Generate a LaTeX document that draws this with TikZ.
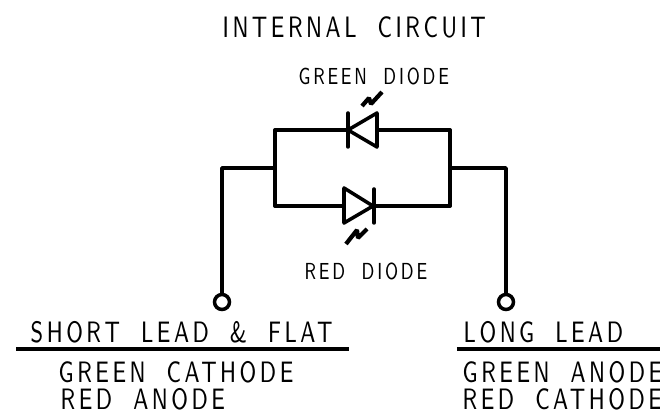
\documentclass[tikz,border=0pt]{standalone}
\usepackage{fontspec}
\newfontfamily\cadfont[LetterSpace=12,FakeStretch=0.72,WordSpace=1.9]{Latin Modern Sans}
\tikzstyle{wire}=[line width=1pt, line cap=round, line join=round]
\tikzstyle{rule}=[line width=1pt]
\tikzstyle{glow}=[line width=1.2pt, line join=bevel]
\tikzstyle{terminal}=[draw, circle, line width=1pt, minimum size=0.15cm, inner sep=0]
\tikzstyle{big label}=[anchor=west, inner sep=0, font=\cadfont\fontsize{8.4}{9}\selectfont]
\tikzstyle{small label}=[anchor=west, inner sep=0, font=\cadfont\fontsize{6.6}{7}\selectfont]

\begin{document}
\begin{tikzpicture}
      \useasboundingbox (0, 0) rectangle (6.6, 4.1);

      \node[big label] (title) at (2.22, 3.83) {INTERNAL CIRCUIT};
      \node[small label] (green_name) at (2.98, 3.34) {GREEN DIODE};
      \node[small label] (red_name) at (3.04, 1.39) {RED DIODE};

      \coordinate (bus_left_top) at (2.75, 2.80);
      \coordinate (bus_left_mid) at (2.75, 2.42);
      \coordinate (bus_left_bot) at (2.75, 2.04);
      \coordinate (bus_right_top) at (4.50, 2.80);
      \coordinate (bus_right_mid) at (4.50, 2.42);
      \coordinate (bus_right_bot) at (4.50, 2.04);
      \coordinate (corner_left) at (2.22, 2.42);
      \coordinate (corner_right) at (5.06, 2.42);

      % green diode, points left
      \coordinate (green_tip) at (3.48, 2.80);
      \coordinate (green_base) at (3.77, 2.80);
      \draw[wire] (bus_left_top) to (green_tip);
      \draw[wire] (green_base) to (bus_right_top);
      \draw[wire] (3.48, 2.97) to (3.48, 2.63);
      \draw[wire] (green_tip) -- (3.77, 2.97) -- (3.77, 2.63) -- cycle;
      \draw[glow] (3.62, 3.04) -- (3.69, 3.12) -- (3.71, 3.06) -- (3.82, 3.18);

      % red diode, points right
      \coordinate (red_base) at (3.44, 2.04);
      \coordinate (red_tip) at (3.73, 2.04);
      \draw[wire] (bus_left_bot) to (red_base);
      \draw[wire] (red_tip) to (bus_right_bot);
      \draw[wire] (3.74, 2.21) to (3.74, 1.87);
      \draw[wire] (red_tip) -- (3.44, 2.22) -- (3.44, 1.87) -- cycle;
      \draw[glow] (3.46, 1.66) -- (3.57, 1.80) -- (3.58, 1.72) -- (3.67, 1.81);

      \draw[wire] (bus_left_top) to (bus_left_bot);
      \draw[wire] (bus_right_top) to (bus_right_bot);

      \node[terminal] (lead_left) at (2.22, 1.08) {};
      \node[terminal] (lead_right) at (5.06, 1.08) {};
      \draw[wire] (bus_left_mid) to (corner_left) to (lead_left);
      \draw[wire] (bus_right_mid) to (corner_right) to (lead_right);

      \node[big label] (short_lead) at (0.30, 0.78) {SHORT LEAD \& FLAT};
      \node[big label] (long_lead) at (4.63, 0.78) {LONG LEAD};
      \coordinate (rule_a) at (0.16, 0.61);
      \coordinate (rule_b) at (3.49, 0.61);
      \coordinate (rule_c) at (4.57, 0.61);
      \coordinate (rule_d) at (6.60, 0.61);
      \draw[rule] (rule_a) to (rule_b);
      \draw[rule] (rule_c) to (rule_d);

      \node[big label] (left_one) at (0.58, 0.38) {GREEN CATHODE};
      \node[big label] (left_two) at (0.60, 0.11) {RED ANODE};
      \node[big label] (right_one) at (4.62, 0.38) {GREEN ANODE};
      \node[big label] (right_two) at (4.62, 0.11) {RED CATHODE};
    \end{tikzpicture}
\end{document}
